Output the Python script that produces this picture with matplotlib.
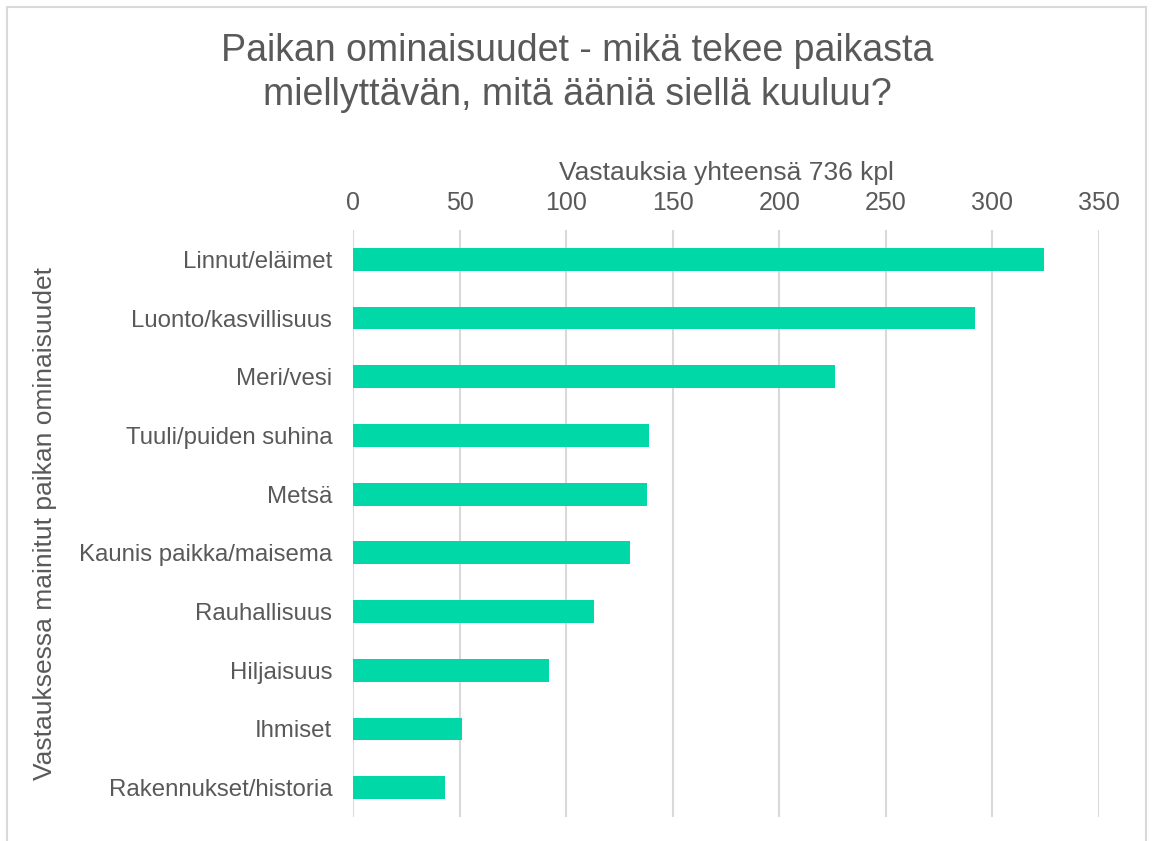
import matplotlib.pyplot as plt
from matplotlib.patches import Rectangle

plt.rcParams['font.family'] = ['Liberation Sans', 'DejaVu Sans']

categories = ["Linnut/eläimet", "Luonto/kasvillisuus", "Meri/vesi", "Tuuli/puiden suhina",
              "Metsä", "Kaunis paikka/maisema", "Rauhallisuus", "Hiljaisuus", "Ihmiset",
              "Rakennukset/historia"]
counts = [324, 292, 226, 139, 138, 130, 113, 92, 51, 43]
xticks = [0, 50, 100, 150, 200, 250, 300, 350]

text_col = "#595959"
bar_col = "#00D8A8"

fig = plt.figure(figsize=(11.55, 8.41), dpi=100)
ax = fig.add_axes([353 / 1155, 1 - 817 / 841, (1099 - 353) / 1155, (817 - 230) / 841])

y = list(range(len(categories)))
ax.barh(y, counts, height=0.39, color=bar_col, zorder=3)
ax.set_ylim(len(categories) - 0.5, -0.5)
ax.set_xlim(0, 350)
ax.set_yticks(y)
ax.set_yticklabels(categories, fontsize=17.3, color=text_col)
ax.set_xticks(xticks)
ax.set_xticklabels([str(t) for t in xticks], fontsize=18, color=text_col)
ax.xaxis.tick_top()
ax.xaxis.set_label_position('top')
ax.tick_params(axis='both', length=0)
ax.tick_params(axis='y', pad=15)
ax.tick_params(axis='x', pad=11)
ax.grid(axis='x', color='#D9D9D9', linewidth=1.5, zorder=0)
for s in ax.spines.values():
    s.set_visible(False)

ax.set_xlabel("Vastauksia yhteensä 736 kpl", fontsize=19, color=text_col, labelpad=8)
ax.set_ylabel("Vastauksessa mainitut paikan ominaisuudet", fontsize=19, color=text_col, labelpad=16)

fig.text(0.5, 1 - 73 / 841, "Paikan ominaisuudet - mikä tekee paikasta\nmiellyttävän, mitä ääniä siellä kuuluu?",
         ha='center', va='center', fontsize=27, color=text_col, linespacing=1.3)

fig.patches.append(Rectangle((7 / 1155, -0.01), (1146 - 7) / 1155, 1 - 7 / 841 + 0.01,
                             transform=fig.transFigure, fill=False, edgecolor='#D9D9D9', linewidth=1.5))

fig.savefig("out.png", dpi=100)
